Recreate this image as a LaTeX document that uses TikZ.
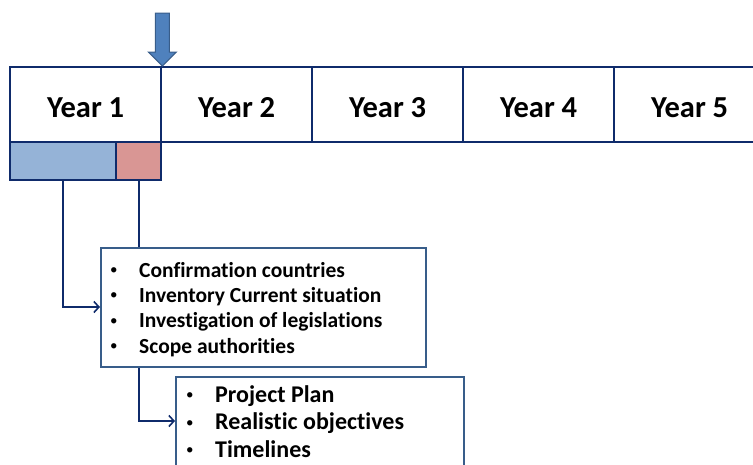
\documentclass[tikz,border=0pt]{standalone}
\usepackage{fontspec}
\setmainfont[Ligatures=NoCommon]{Carlito}
\usetikzlibrary{arrows.meta}
\definecolor{navy}{HTML}{0F2B6B}
\definecolor{boxline}{HTML}{385D8A}
\definecolor{barblue}{HTML}{95B3D7}
\definecolor{barred}{HTML}{D99694}
\definecolor{arrowfill}{HTML}{4F81BD}
\newcommand{\bul}{\raisebox{2.5pt}{\fontsize{15}{15}\selectfont •}}
\begin{document}
\begin{tikzpicture}[x=1pt,y=-1pt,
  cell/.style={draw=navy,line width=2.4pt,minimum width=151pt,minimum height=75pt,inner sep=0pt,anchor=north west},
  yearlabel/.style={anchor=base,inner sep=0pt,font=\fontsize{30.5}{36}\selectfont\bfseries},
  bar/.style={draw=navy,line width=2.4pt,minimum height=38pt,inner sep=0pt,anchor=north west},
  infobox/.style={draw=boxline,line width=2pt,fill=white,inner sep=0pt,anchor=north west},
  conn/.style={draw=navy,line width=2pt},
  tip/.style={-{Straight Barb[length=5pt,width=11pt,line width=1.6pt]}},
  itemA/.style={anchor=base west,inner sep=0pt,font=\fontsize{21.5}{25}\selectfont\bfseries},
  itemB/.style={anchor=base west,inner sep=0pt,font=\fontsize{24}{28}\selectfont\bfseries},
  bulletmark/.style={anchor=base west,inner sep=0pt}
]
\useasboundingbox (0,0) rectangle (753,464);
% timeline
\node[cell] (y1) at (9,66) {};
\node[cell] (y2) at (160,66) {};
\node[cell] (y3) at (311,66) {};
\node[cell] (y4) at (462,66) {};
\node[cell] (y5) at (613,66) {};
\foreach \c/\t in {y1/Year 1,y2/Year 2,y3/Year 3,y4/Year 4,y5/Year 5}
  \node[yearlabel] (l\c) at (\c.center |- 0,117) {\t};
% bars
\node[bar,fill=barblue,minimum width=106pt] (blue) at (9,141) {};
\node[bar,fill=barred,minimum width=45pt] (red) at (115,141) {};
% down arrow
\coordinate (atip) at (y1.north east);
\fill[arrowfill,draw=boxline,line width=1pt]
  (atip) -- ++(-14,-14) -- ++(7,0) -- ++(0,-39) -- ++(14,0) -- ++(0,39) -- ++(7,0) -- cycle;
% box 1
\node[infobox,minimum width=325pt,minimum height=119pt] (box1) at (100,247) {};
\foreach \i/\t/\yy in {1/Confirmation countries/277,2/Inventory Current situation/302.3,3/Investigation of legislations/327.6,4/Scope authorities/353}{
  \node[bulletmark] (b1\i) at (110,\yy) {\bul};
  \node[itemA] (i1\i) at (139,\yy) {\t};
}
% box 2
\node[infobox,minimum width=288pt,minimum height=100pt] (box2) at (175,376) {};
\foreach \i/\t/\yy in {1/Project Plan/402,2/Realistic objectives/429.5,3/Timelines/457}{
  \node[bulletmark] (b2\i) at (186,\yy) {\bul};
  \node[itemB] (i2\i) at (215,\yy) {\t};
}
% connectors
\coordinate (c1) at (box1.west |- 0,307);
\coordinate (c2) at (box2.west |- 0,421);
\draw[conn] (red.south) -- (red.south |- box1.north);
\draw[conn,tip] (blue.south) |- (c1);
\draw[conn,tip] (box1.south -| red.south) |- (c2);
\end{tikzpicture}
\end{document}
